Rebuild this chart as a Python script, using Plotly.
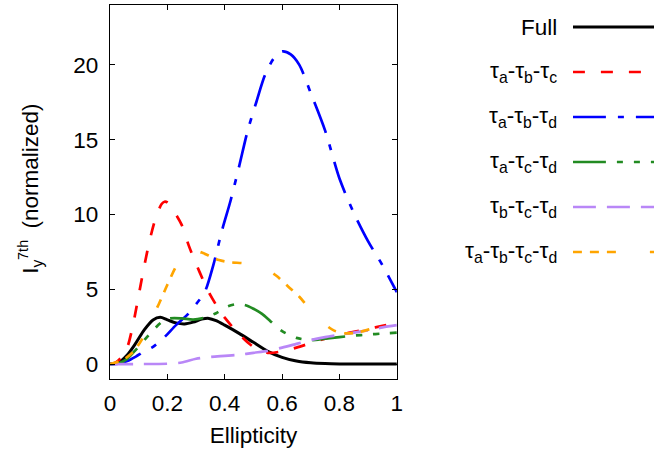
import plotly.graph_objects as go

# ---------------- data ----------------
full_x = [0, 0.03, 0.06, 0.09, 0.12, 0.15, 0.175, 0.2, 0.23, 0.26, 0.29, 0.32, 0.345, 0.37, 0.4, 0.45, 0.5, 0.55, 0.6, 0.65, 0.7, 0.75, 0.8, 0.9, 1.0]
full_y = [0, 0.1, 0.6, 1.4, 2.3, 2.95, 3.12, 2.95, 2.75, 2.68, 2.8, 3.0, 3.05, 2.9, 2.6, 2.05, 1.45, 0.85, 0.45, 0.2, 0.08, 0.03, 0.01, 0, 0]

abc_x = [0, 0.02, 0.04, 0.06, 0.08, 0.1, 0.12, 0.14, 0.16, 0.18, 0.19, 0.2, 0.22, 0.25, 0.275, 0.3, 0.325, 0.35, 0.375, 0.4, 0.45, 0.5, 0.55, 0.6, 0.65, 0.7, 0.75, 0.8, 0.85, 0.9, 0.95, 1.0]
abc_y = [0, 0.1, 0.45, 1.1, 2.6, 4.6, 6.6, 8.4, 9.8, 10.7, 10.85, 10.8, 10.3, 9.3, 7.9, 6.7, 5.6, 4.6, 3.8, 3.1, 2.0, 1.15, 0.75, 0.85, 1.1, 1.4, 1.7, 1.95, 2.15, 2.35, 2.55, 2.75]

abd_x = [0, 0.03, 0.06, 0.09, 0.12, 0.15, 0.19, 0.23, 0.27, 0.3, 0.33, 0.36, 0.39, 0.42, 0.45, 0.48, 0.51, 0.54, 0.57, 0.6, 0.63, 0.66, 0.7, 0.75, 0.8, 0.85, 0.9, 0.95, 1.0]
abd_y = [0, 0.02, 0.2, 0.5, 0.85, 1.15, 1.8, 2.6, 3.3, 4.0, 4.8, 6.6, 8.9, 10.9, 13.2, 15.6, 17.5, 19.3, 20.4, 20.9, 20.7, 20.0, 18.1, 15.6, 12.4, 10.1, 8.2, 6.6, 4.8]

acd_x = [0, 0.03, 0.06, 0.09, 0.12, 0.15, 0.18, 0.21, 0.25, 0.29, 0.33, 0.37, 0.41, 0.44, 0.47, 0.5, 0.53, 0.56, 0.6, 0.65, 0.7, 0.75, 0.8, 0.85, 0.9, 0.95, 1.0]
acd_y = [0, 0.05, 0.35, 0.95, 1.6, 2.25, 2.8, 3.05, 3.05, 2.97, 3.1, 3.4, 3.85, 4.0, 3.95, 3.7, 3.35, 2.85, 2.2, 1.75, 1.6, 1.7, 1.8, 1.9, 1.97, 2.04, 2.1]

bcd_x = [0, 0.1, 0.2, 0.25, 0.3, 0.35, 0.4, 0.45, 0.5, 0.55, 0.6, 0.65, 0.7, 0.75, 0.8, 0.85, 0.9, 0.95, 1.0]
bcd_y = [0, 0, 0.02, 0.1, 0.35, 0.48, 0.55, 0.62, 0.75, 0.88, 1.1, 1.35, 1.6, 1.8, 1.95, 2.1, 2.25, 2.45, 2.6]

abcd_x = [0, 0.02, 0.05, 0.08, 0.11, 0.14, 0.17, 0.2, 0.23, 0.26, 0.29, 0.32, 0.35, 0.38, 0.42, 0.46, 0.5, 0.54, 0.58, 0.62, 0.66, 0.7, 0.74, 0.78, 0.82, 0.86, 0.9, 0.95, 1.0]
abcd_y = [0, 0.1, 0.33, 0.8, 1.6, 2.8, 4.0, 5.3, 6.5, 7.3, 7.6, 7.45, 7.2, 6.95, 6.8, 6.75, 6.65, 6.4, 5.9, 5.2, 4.5, 3.6, 2.8, 2.25, 2.05, 2.1, 2.3, 2.6, 2.9]

labels = ["Full",
          "τ<sub>a</sub>-τ<sub>b</sub>-τ<sub>c</sub>",
          "τ<sub>a</sub>-τ<sub>b</sub>-τ<sub>d</sub>",
          "τ<sub>a</sub>-τ<sub>c</sub>-τ<sub>d</sub>",
          "τ<sub>b</sub>-τ<sub>c</sub>-τ<sub>d</sub>",
          "τ<sub>a</sub>-τ<sub>b</sub>-τ<sub>c</sub>-τ<sub>d</sub>"]

x_ticks = [0, 0.2, 0.4, 0.6, 0.8, 1.0]
x_ticktext = ["0", "0.2", "0.4", "0.6", "0.8", "1"]
y_ticks = [0, 5, 10, 15, 20]
y_ticktext = ["0", "5", "10", "15", "20"]

# ---------------- styles ----------------
series = [(full_x, full_y), (abc_x, abc_y), (abd_x, abd_y),
          (acd_x, acd_y), (bcd_x, bcd_y), (abcd_x, abcd_y)]
colors = ["#000000", "#ff0000", "#0000ff", "#228b22", "#b987f7", "#ffa500"]
dashes = ["solid", "12px,16px", "33px,12px,6px,12px", "33px,11px,6px,11px,6px,11px",
          "23px,11px", "9px,8px,9px,8px,9px,34px"]
widths = [3, 2.7, 2.7, 2.7, 2.7, 2.7]

W, H = 660, 453
ML, MR, MT, MB = 110, 0, 5, 74
PW, PH = W - ML - MR, H - MT - MB


def px(xp):
    return (xp - ML) / PW


def py(yp):
    return (H - MB - yp) / PH


FONT = "Liberation Sans, Arial, sans-serif"
FS = 22.5

fig = go.Figure()
for (xs, ys), c, d, w in zip(series, colors, dashes, widths):
    fig.add_trace(go.Scatter(x=xs, y=ys, mode="lines",
                             line=dict(color=c, dash=d, width=w, shape="spline", smoothing=0.8),
                             showlegend=False, xaxis="x", yaxis="y"))

# legend samples on a hidden helper axis
row_y = [27 + 45 * i for i in range(len(labels))]
for i, (c, d, w) in enumerate(zip(colors, dashes, widths)):
    fig.add_trace(go.Scatter(x=[0, 1], y=[row_y[i], row_y[i]], mode="lines",
                             line=dict(color=c, dash=d, width=w),
                             showlegend=False, xaxis="x2", yaxis="y2", hoverinfo="skip"))
    fig.add_annotation(text=labels[i], xref="paper", yref="y2", x=px(564), y=row_y[i],
                       xanchor="right", yanchor="middle", showarrow=False,
                       font=dict(family=FONT, size=FS, color="black"))

# y axis title built from annotations (stacked sub/superscript)
fig.add_annotation(text="I<sub>y</sub>\u00a0\u00a0\u00a0\u00a0\u00a0(normalized)", textangle=-90,
                   xref="paper", yref="paper", x=px(31), y=py(189),
                   xanchor="center", yanchor="middle", showarrow=False,
                   font=dict(family=FONT, size=FS, color="black"))
fig.add_annotation(text="7th", textangle=-90,
                   xref="paper", yref="paper", x=px(22), y=py(262),
                   xanchor="center", yanchor="bottom", showarrow=False,
                   font=dict(family=FONT, size=14.5, color="black"))

axis_common = dict(showline=True, linecolor="black", linewidth=1.3, mirror="ticks",
                   ticks="inside", ticklen=5, tickwidth=1, tickcolor="black",
                   showgrid=False, zeroline=False,
                   tickfont=dict(family=FONT, size=FS, color="black"))

fig.update_layout(
    width=W, height=H,
    margin=dict(l=ML, r=MR, t=MT, b=MB),
    paper_bgcolor="white", plot_bgcolor="white",
    showlegend=False,
    xaxis=dict(domain=[0, 290 / PW], range=[0, 1], tickvals=x_ticks, ticktext=x_ticktext,
               ticklabelstandoff=4,
               title=dict(text="Ellipticity", font=dict(family=FONT, size=FS, color="black"), standoff=12),
               **axis_common),
    yaxis=dict(range=[-1, 24], tickvals=y_ticks, ticktext=y_ticktext, ticklabelstandoff=6,
               **axis_common),
    xaxis2=dict(domain=[px(578), 1], range=[0, 1], visible=False, anchor="y2"),
    yaxis2=dict(domain=[0, 1], range=[H - MB, MT], visible=False, anchor="x2"),
)

fig.write_html("out.html")
